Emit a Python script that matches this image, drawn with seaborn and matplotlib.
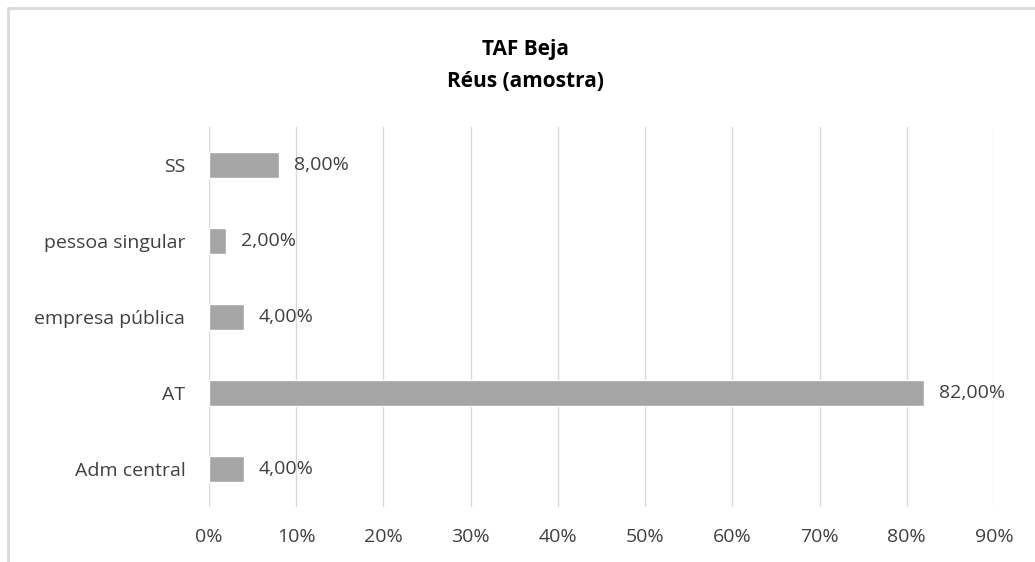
import matplotlib
matplotlib.use("Agg")
import matplotlib.pyplot as plt
import seaborn as sns
import pandas as pd
from matplotlib.lines import Line2D
from matplotlib.ticker import FuncFormatter, MultipleLocator

categories = ["SS", "pessoa singular", "empresa pública", "AT", "Adm central"]
values = [8.0, 2.0, 4.0, 82.0, 4.0]
title_lines = ["TAF Beja", "Réus (amostra)"]

sns.set_style("white")
plt.rcParams['font.family'] = ['Open Sans', 'DejaVu Sans']

df = pd.DataFrame({"cat": categories, "val": values})

fig = plt.figure(figsize=(10.35, 5.62), dpi=100)
ax = fig.add_axes([0.2019, 0.0979, 0.7585, 0.6761])

sns.barplot(data=df, x="val", y="cat", orient="h", color="#a5a5a5",
            saturation=1, width=0.345, ax=ax, order=categories)

ax.set_xlim(0, 90)
ax.xaxis.set_major_locator(MultipleLocator(10))
ax.xaxis.set_major_formatter(FuncFormatter(lambda v, p: f"{int(round(v))}%"))
ax.grid(axis="x", color="#d9d9d9", linewidth=1)
ax.set_axisbelow(True)
for s in ax.spines.values():
    s.set_visible(False)
ax.set_xlabel("")
ax.set_ylabel("")
ax.tick_params(axis="both", length=0, labelsize=14, colors="#404040")
ax.tick_params(axis="x", pad=15)
ax.tick_params(axis="y", pad=17)

for i, v in enumerate(values):
    ax.text(v + 1.7, i, f"{v:.2f}%".replace(".", ","), va="center", ha="left",
            fontsize=14, color="#404040")

fig.text(0.508, 0.902, title_lines[0], ha="center", va="baseline",
         fontsize=15, fontweight="bold", color="#000000")
fig.text(0.508, 0.846, title_lines[1], ha="center", va="baseline",
         fontsize=15, fontweight="bold", color="#000000")

# chart frame (top and left visible)
fig.add_artist(Line2D([8 / 1035, 1.0], [1 - 8 / 562, 1 - 8 / 562],
                      transform=fig.transFigure, color="#d9d9d9", linewidth=2))
fig.add_artist(Line2D([8 / 1035, 8 / 1035], [0.0, 1 - 8 / 562],
                      transform=fig.transFigure, color="#d9d9d9", linewidth=2))

fig.savefig("out.png", dpi=100, facecolor="white")
